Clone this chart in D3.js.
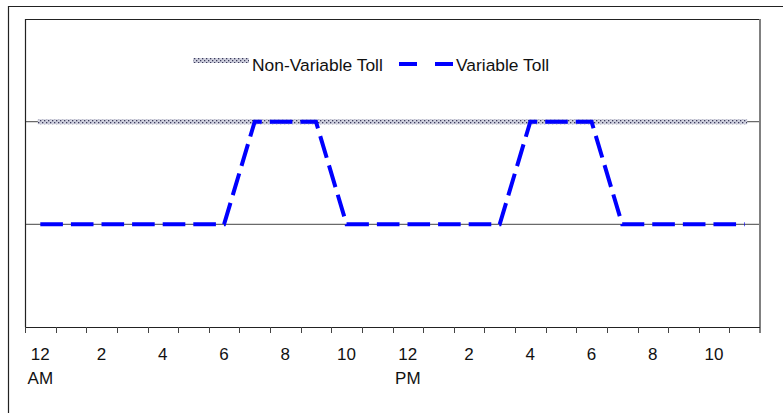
<!DOCTYPE html>
<html>
<head>
<meta charset="utf-8">
<script src="https://cdn.jsdelivr.net/npm/d3@7"></script>
<style>
  body { margin: 0; background: #fff; }
  svg { display: block; font-family: "Liberation Sans", Arial, sans-serif; }
</style>
</head>
<body>
<div class="chart"></div>
<script>
// hourly data, 12 AM .. 11 PM
var hours = d3.range(24);
var hourLabels = ["12", "", "2", "", "4", "", "6", "", "8", "", "10", "",
                  "12", "", "2", "", "4", "", "6", "", "8", "", "10", ""];
var subLabels = { 0: "AM", 12: "PM" };
var variableToll = [1, 1, 1, 1, 1, 1, 1, 2, 2, 2, 1, 1, 1, 1, 1, 1, 2, 2, 2, 1, 1, 1, 1, 1];
var nonVariableToll = [2, 2, 2, 2, 2, 2, 2, 2, 2, 2, 2, 2, 2, 2, 2, 2, 2, 2, 2, 2, 2, 2, 2, 2];
var gridValues = [1, 2];

var width = 783, height = 413;
var plotLeft = 25, plotRight = 760, plotTop = 19, plotBottom = 327;

var svg = d3.select(".chart").append("svg")
  .attr("width", width)
  .attr("height", height);

// dotted texture for the flat toll
var pat = svg.append("defs").append("pattern")
  .attr("id", "dots")
  .attr("patternUnits", "userSpaceOnUse")
  .attr("width", 4).attr("height", 4);
pat.append("rect").attr("width", 4).attr("height", 4).attr("fill", "#cfd0de");
pat.append("rect").attr("x", 0).attr("y", 0).attr("width", 1.3).attr("height", 1.3).attr("fill", "#3a3a5a");
pat.append("rect").attr("x", 2).attr("y", 2).attr("width", 1.3).attr("height", 1.3).attr("fill", "#3a3a5a");

// outer frame (only left and top visible)
svg.append("path")
  .attr("d", "M8.5," + height + "V6.5H" + width)
  .attr("fill", "none")
  .attr("stroke", "#222")
  .attr("stroke-width", 1.2);

var x = d3.scaleBand().domain(hours).range([plotLeft, plotRight]);
var y = d3.scaleLinear().domain([0, 3]).range([plotBottom, plotTop]);

// gridlines
svg.selectAll(".grid")
  .data(gridValues)
  .enter()
  .append("line")
  .attr("class", "grid")
  .attr("x1", plotLeft).attr("x2", plotRight)
  .attr("y1", function (d) { return y(d); })
  .attr("y2", function (d) { return y(d); })
  .attr("stroke", "#6a6a6a")
  .attr("stroke-width", 1.3);

// plot frame
svg.append("path")
  .attr("d", "M" + (plotLeft + 0.5) + "," + plotBottom + "V" + (plotTop + 0.5) + "H" + plotRight)
  .attr("fill", "none")
  .attr("stroke", "#222")
  .attr("stroke-width", 1.2);
svg.append("line")
  .attr("x1", plotRight).attr("x2", plotRight)
  .attr("y1", plotTop).attr("y2", plotBottom + 6)
  .attr("stroke", "#808080")
  .attr("stroke-width", 2);

// x axis: ticks on band edges, labels at band centers
var gx = svg.append("g").attr("transform", "translate(0," + plotBottom + ")");
gx.append("line")
  .attr("x1", plotLeft).attr("x2", plotRight)
  .attr("y1", 0.5).attr("y2", 0.5)
  .attr("stroke", "#222").attr("stroke-width", 1.2);
gx.selectAll(".tick")
  .data(hours)
  .enter()
  .append("line")
  .attr("class", "tick")
  .attr("x1", function (d) { return Math.round(x(d)) + 0.5; })
  .attr("x2", function (d) { return Math.round(x(d)) + 0.5; })
  .attr("y1", 0).attr("y2", 6)
  .attr("stroke", "#444");

gx.selectAll(".lab")
  .data(hours.filter(function (d) { return hourLabels[d] !== ""; }))
  .enter()
  .append("text")
  .attr("class", "lab")
  .attr("x", function (d) { return x(d) + x.bandwidth() / 2; })
  .attr("y", 33)
  .attr("text-anchor", "middle")
  .attr("font-size", 17)
  .attr("fill", "#111")
  .text(function (d) { return hourLabels[d]; });

gx.selectAll(".sub")
  .data(hours.filter(function (d) { return subLabels[d]; }))
  .enter()
  .append("text")
  .attr("class", "sub")
  .attr("x", function (d) { return x(d) + x.bandwidth() / 2; })
  .attr("y", 57)
  .attr("text-anchor", "middle")
  .attr("font-size", 17)
  .attr("fill", "#111")
  .text(function (d) { return subLabels[d]; });

var cx = function (d, i) { return x(hours[i]) + x.bandwidth() / 2; };
var line = d3.line().x(cx).y(function (d) { return y(d); });

svg.append("path")
  .datum(nonVariableToll)
  .attr("d", line)
  .attr("fill", "none")
  .attr("stroke", "url(#dots)")
  .attr("stroke-width", 5)
  .attr("stroke-linecap", "square");

svg.append("path")
  .datum(variableToll)
  .attr("d", line)
  .attr("fill", "none")
  .attr("stroke", "#0000ff")
  .attr("stroke-width", 4)
  .attr("stroke-dasharray", "22.6,8");

// legend
var legend = svg.append("g");
legend.append("rect")
  .attr("x", 193).attr("y", 58)
  .attr("width", 56).attr("height", 5)
  .attr("fill", "url(#dots)");
legend.append("text")
  .attr("x", 252).attr("y", 71)
  .attr("font-size", 17.4)
  .attr("fill", "#111")
  .text("Non-Variable Toll");
legend.append("line")
  .attr("x1", 399).attr("x2", 454)
  .attr("y1", 64).attr("y2", 64)
  .attr("stroke", "#0000ff")
  .attr("stroke-width", 4)
  .attr("stroke-dasharray", "18,18");
legend.append("text")
  .attr("x", 456).attr("y", 71)
  .attr("font-size", 17.4)
  .attr("fill", "#111")
  .text("Variable Toll");
</script>
</body>
</html>
